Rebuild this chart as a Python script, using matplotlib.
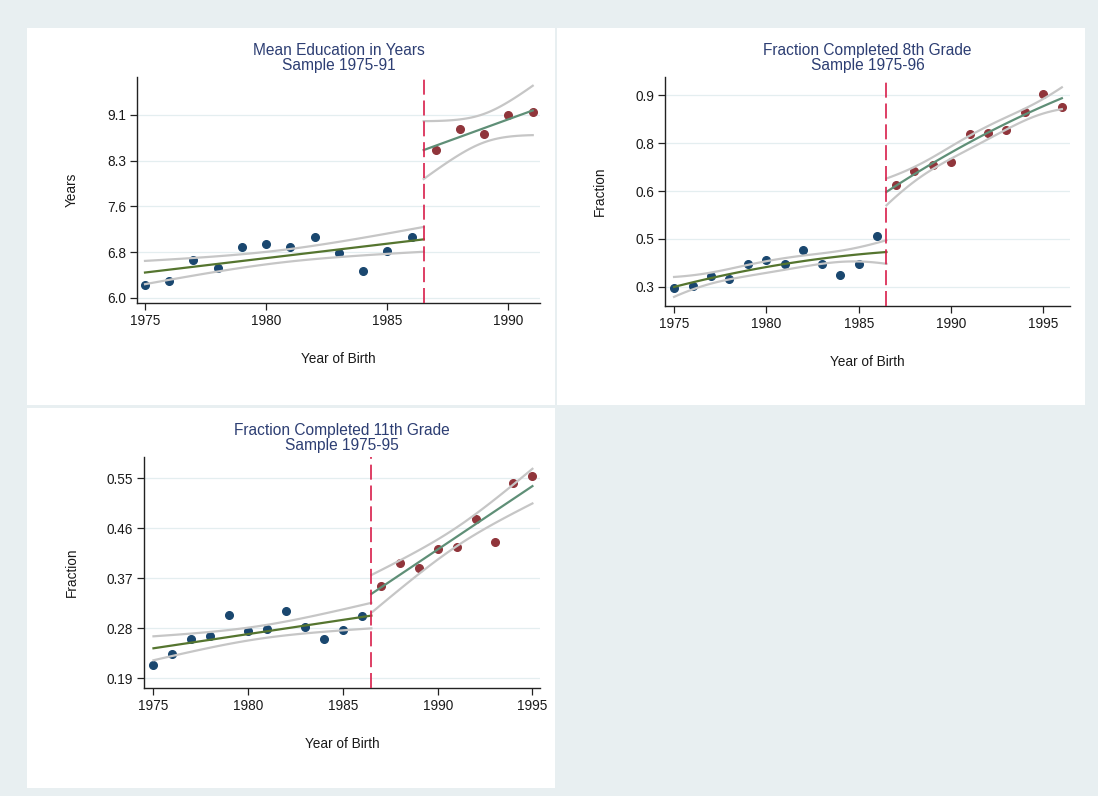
import numpy as np
import matplotlib
matplotlib.use("Agg")
import matplotlib.pyplot as plt
from matplotlib.patches import Rectangle

plt.rcParams['font.family'] = ['Liberation Sans', 'DejaVu Sans']

# data
cutoff = 1986.5

years_edu = [1975, 1976, 1977, 1978, 1979, 1980, 1981, 1982, 1983, 1984, 1985, 1986,
             1987, 1988, 1989, 1990, 1991]
edu_years = [6.22, 6.29, 6.64, 6.50, 6.87, 6.92, 6.87, 7.03, 6.76, 6.46, 6.80, 7.03,
             8.51, 8.86, 8.78, 9.09, 9.14]

years_g8 = [1975, 1976, 1977, 1978, 1979, 1980, 1981, 1982, 1983, 1984, 1985, 1986,
            1987, 1988, 1989, 1990, 1991, 1992, 1993, 1994, 1995, 1996]
frac_g8 = [0.297, 0.304, 0.334, 0.324, 0.370, 0.384, 0.370, 0.415, 0.373, 0.337, 0.371, 0.460,
           0.618, 0.663, 0.681, 0.691, 0.777, 0.783, 0.791, 0.848, 0.903, 0.864]

years_g11 = [1975, 1976, 1977, 1978, 1979, 1980, 1981, 1982, 1983, 1984, 1985, 1986,
             1987, 1988, 1989, 1990, 1991, 1992, 1993, 1994, 1995]
frac_g11 = [0.213, 0.233, 0.261, 0.265, 0.304, 0.275, 0.278, 0.311, 0.282, 0.261, 0.276, 0.301,
            0.355, 0.398, 0.389, 0.423, 0.426, 0.477, 0.435, 0.542, 0.553]

# half width of the confidence band at the cutoff (left, right)
band_edu = [0.21, 0.49]
band_g8 = [0.037, 0.042]
band_g11 = [0.023, 0.034]

ticks_edu = [6.0, 6.775, 7.55, 8.325, 9.1]
labels_edu = ['6.0', '6.8', '7.6', '8.3', '9.1']
ticks_g8 = [0.3, 0.45, 0.6, 0.75, 0.9]
labels_g8 = ['0.3', '0.5', '0.6', '0.8', '0.9']
ticks_g11 = [0.19, 0.28, 0.37, 0.46, 0.55]
labels_g11 = ['0.19', '0.28', '0.37', '0.46', '0.55']

NAVY = '#1a476f'
MAROON = '#90353b'
GREEN = '#55752f'
TEAL = '#5f8f77'
CI = '#c6c6c6'
TITLE = '#2d3e73'
BG = '#e8eff1'

W, H = 1098, 796
fig = plt.figure(figsize=(W / 100, H / 100), dpi=100)
fig.patch.set_facecolor(BG)


def px_box(x0, y0, x1, y1):
    # pixel box (top-left origin) -> figure fraction
    return [x0 / W, 1 - y1 / H, (x1 - x0) / W, (y1 - y0) / H]


def panel(x0, y0, x1, y1):
    fig.patches.append(Rectangle((x0 / W, 1 - y1 / H), (x1 - x0) / W, (y1 - y0) / H,
                                 transform=fig.transFigure, facecolor='white',
                                 edgecolor='none', zorder=-10))


def fit_band(ax, x, y, deg, lo, hi, hw_cut, color):
    x = np.asarray(x, float) - cutoff
    y = np.asarray(y, float)
    X = np.vander(x, deg + 1)
    coef = np.linalg.lstsq(X, y, rcond=None)[0]
    inv = np.linalg.inv(X.T @ X)
    xs = np.linspace(lo, hi, 120) - cutoff
    Xs = np.vander(xs, deg + 1)
    fit = Xs @ coef
    lev = np.sqrt(np.sum((Xs @ inv) * Xs, axis=1))
    X0 = np.vander(np.array([0.0]), deg + 1)
    lev0 = np.sqrt(np.sum((X0 @ inv) * X0, axis=1))[0]
    hw = hw_cut * lev / lev0
    ax.plot(xs + cutoff, fit + hw, color=CI, lw=1.6, zorder=3)
    ax.plot(xs + cutoff, fit - hw, color=CI, lw=1.6, zorder=3)
    ax.plot(xs + cutoff, fit, color=color, lw=1.6, zorder=4)


def draw(box, years, vals, deg, bands, title, ylabel, yticks, ylabels, xlim, ylim, xticks):
    ax = fig.add_axes(px_box(*box))
    ax.set_facecolor('white')
    years = np.array(years)
    vals = np.array(vals)
    left = years < cutoff
    ax.plot(years[left], vals[left], 'o', color=NAVY, ms=5.5, zorder=2)
    ax.plot(years[~left], vals[~left], 'o', color=MAROON, ms=5.5, zorder=2)
    fit_band(ax, years[left], vals[left], deg, years[left].min(), cutoff, bands[0], GREEN)
    fit_band(ax, years[~left], vals[~left], deg, cutoff, years[~left].max(), bands[1], TEAL)
    ax.axvline(cutoff, color='#d81e4a', lw=1.2, dashes=(9, 3.5), zorder=5)
    ax.set_xlim(*xlim)
    ax.set_ylim(*ylim)
    ax.set_xticks(xticks)
    ax.set_yticks(yticks)
    ax.set_yticklabels(ylabels)
    ax.grid(axis='y', color='#e4eef0', lw=0.9)
    ax.set_axisbelow(True)
    for s in ['top', 'right']:
        ax.spines[s].set_visible(False)
    for s in ['left', 'bottom']:
        ax.spines[s].set_color('#222222')
        ax.spines[s].set_linewidth(1.0)
    ax.tick_params(length=5, width=0.9, color='#222222', labelsize=9.8,
                   labelcolor='#1a1a1a', pad=3)
    ax.set_title(title, fontsize=11.2, color=TITLE, linespacing=1.0, pad=5)
    ax.set_xlabel('Year of Birth', fontsize=9.8, color='#1a1a1a', labelpad=17)
    ax.set_ylabel(ylabel, fontsize=9.8, color='#1a1a1a', labelpad=20)
    return ax


panel(27, 28, 555, 405)
panel(557, 28, 1085, 405)
panel(27, 408, 555, 788)

draw((137, 77, 540, 303), years_edu, edu_years, 1, band_edu,
     'Mean Education in Years\nSample 1975-91', 'Years', ticks_edu, labels_edu,
     (1974.67, 1991.3), (5.915, 9.74), [1975, 1980, 1985, 1990])

draw((665, 77, 1070, 306), years_g8, frac_g8, 2, band_g8,
     'Fraction Completed 8th Grade\nSample 1975-96', 'Fraction', ticks_g8, labels_g8,
     (1974.51, 1996.44), (0.24, 0.957), [1975, 1980, 1985, 1990, 1995])

draw((144, 457, 540, 688), years_g11, frac_g11, 1, band_g11,
     'Fraction Completed 11th Grade\nSample 1975-95', 'Fraction', ticks_g11, labels_g11,
     (1974.5, 1995.4), (0.172, 0.588), [1975, 1980, 1985, 1990, 1995])

fig.savefig('out.png', dpi=100, facecolor=fig.get_facecolor())
